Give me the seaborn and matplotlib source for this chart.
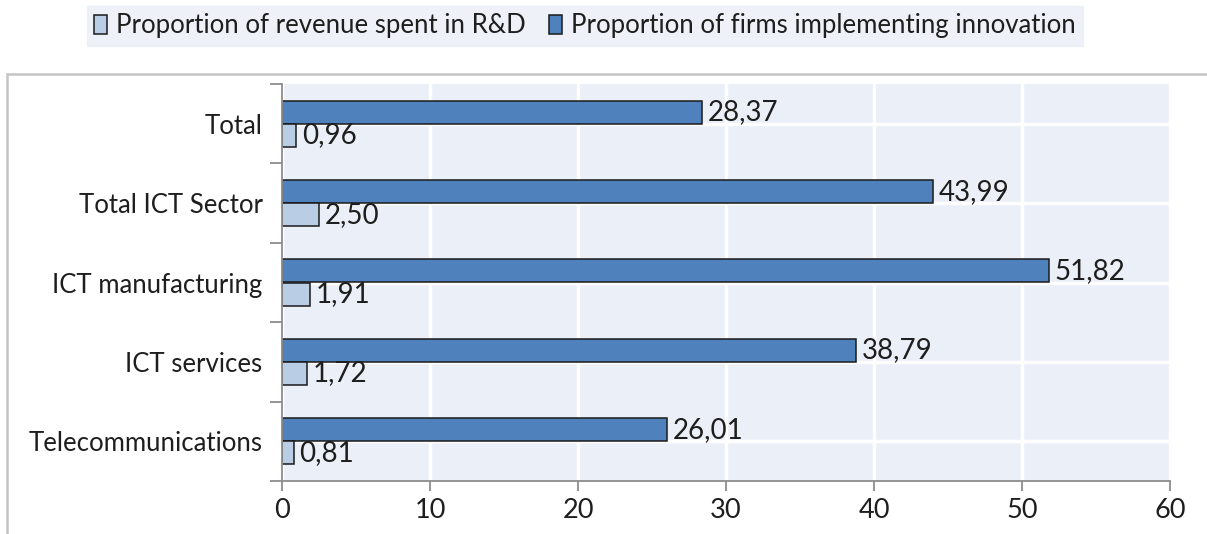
import matplotlib
matplotlib.use("Agg")
import matplotlib.pyplot as plt
from matplotlib.patches import Patch, Rectangle
from matplotlib.ticker import MultipleLocator
import pandas as pd
import seaborn as sns

categories = ["Total", "Total ICT Sector", "ICT manufacturing", "ICT services", "Telecommunications"]
firms_innovating = [28.37, 43.99, 51.82, 38.79, 26.01]
revenue_rnd = [0.96, 2.50, 1.91, 1.72, 0.81]
series_names = ["Proportion of revenue spent in R&D", "Proportion of firms implementing innovation"]
x_ticks = [0, 10, 20, 30, 40, 50, 60]

dark = "#4F81BD"
light = "#B9CDE5"
text_color = "#1E1E1E"
bg = "#EBF0F8"

df = pd.DataFrame({
    "category": categories * 2,
    "series": [series_names[1]] * len(categories) + [series_names[0]] * len(categories),
    "value": firms_innovating + revenue_rnd,
})

sns.set_theme(style="white")
plt.rcParams["font.family"] = ["Lato", "DejaVu Sans"]

W, H = 1207, 534
fig = plt.figure(figsize=(W / 100, H / 100), dpi=100, facecolor="white")
ax = fig.add_axes([282 / W, 1 - 481 / H, (1170 - 282) / W, (481 - 84) / H])

sns.barplot(
    data=df, y="category", x="value", hue="series",
    hue_order=[series_names[1], series_names[0]],
    palette=[dark, light], width=0.58, gap=0,
    edgecolor="#1A1A1A", linewidth=1.1, saturation=1,
    orient="h", legend=False, ax=ax,
)

ax.set_facecolor(bg)
ax.set_xlim(0, 60)
ax.set_ylim(len(categories) - 0.5, -0.5)
ax.set_xlabel("")
ax.set_ylabel("")
ax.set_axisbelow(True)

ax.xaxis.set_major_locator(plt.FixedLocator(x_ticks))
ax.set_xticklabels([str(t) for t in x_ticks])
ax.yaxis.set_minor_locator(MultipleLocator(1, offset=0.5))
ax.grid(True, axis="x", color="white", linewidth=2.5)
ax.grid(True, axis="y", which="major", color="white", linewidth=2.5)

for side in ["top", "right"]:
    ax.spines[side].set_visible(False)
for side in ["left", "bottom"]:
    ax.spines[side].set_color("#8C8C8C")
    ax.spines[side].set_linewidth(1.3)

ax.tick_params(axis="x", which="major", length=7.5, width=1.3, color="#8C8C8C",
               labelsize=19.5, labelcolor=text_color, pad=5, bottom=True)
ax.tick_params(axis="y", which="major", length=0, labelsize=18.5,
               labelcolor=text_color, pad=14)
ax.tick_params(axis="y", which="minor", length=8.5, width=1.3, color="#8C8C8C", left=True)

for container in ax.containers:
    ax.bar_label(container, labels=[f"{v:.2f}".replace(".", ",") for v in container.datavalues],
                 padding=4, fontsize=20, color=text_color)

handles = [
    Patch(facecolor=light, edgecolor="#1A1A1A", linewidth=1.1, label=series_names[0]),
    Patch(facecolor=dark, edgecolor="#1A1A1A", linewidth=1.1, label=series_names[1]),
]
leg = fig.legend(
    handles=handles, loc="center", bbox_to_anchor=(585 / W, 1 - 26 / H), ncol=2,
    fontsize=18.5, frameon=True, fancybox=False, handlelength=0.5, handleheight=0.8,
    handletextpad=0.35, columnspacing=0.9, borderpad=0.3, borderaxespad=0,
    labelcolor=text_color,
)
leg.get_frame().set_facecolor("#EAEFF7")
leg.get_frame().set_edgecolor("#EAEFF7")

fig.patches.append(Rectangle((7 / W, -0.05), 1.05, 1 - 74 / H + 0.05, transform=fig.transFigure,
                             fill=False, edgecolor="#C4C4C4", linewidth=1.8, zorder=0))

fig.savefig("out.png", dpi=100, facecolor="white")
